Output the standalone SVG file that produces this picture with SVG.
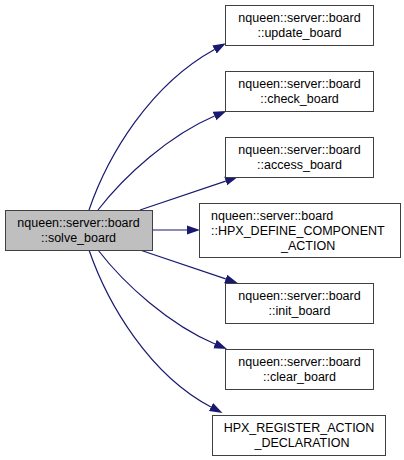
<svg xmlns="http://www.w3.org/2000/svg" width="404" height="460" viewBox="0 0 404 460">
<style>
.box{fill:#ffffff;stroke:#404040;stroke-width:1}
.cur{fill:#bfbfbf;stroke:#404040;stroke-width:1}
text{font-family:"Liberation Sans",Arial,sans-serif;font-size:12.5px;fill:#000000}
.c{text-anchor:middle}
.edge{fill:none;stroke:#191970;stroke-width:1.2;marker-end:url(#arr)}
</style>
<defs>
<marker id="arr" viewBox="0 0 13 10" refX="0" refY="5" markerWidth="13" markerHeight="10" markerUnits="userSpaceOnUse" orient="auto">
<path d="M0,0.5 L13,5 L0,9.5 z" fill="#191970"/>
</marker>
</defs>
<rect width="404" height="460" fill="#ffffff"/>
<g id="edges">
<path class="edge" d="M89,210 C108,155 150,85 214.5,49.5"/>
<path class="edge" d="M98,210 C125,175 170,135 214.5,116"/>
<path class="edge" d="M140,210 C170,200 200,190 225.7,181.1"/>
<path class="edge" d="M152,230 L187,230"/>
<path class="edge" d="M140,250 C170,260 200,270 225.7,278.9"/>
<path class="edge" d="M98,250 C125,285 170,325 215,344"/>
<path class="edge" d="M89,250 C108,305 150,375 211,407"/>
</g>
<g id="solve_board">
<rect class="cur" x="5.5" y="210.5" width="147" height="40"/>
<text class="c" x="78.5" y="226.5">nqueen::server::board</text>
<text class="c" x="78.5" y="241.5">::solve_board</text>
</g>
<g id="update_board">
<rect class="box" x="225.5" y="5.5" width="148" height="40"/>
<text class="c" x="299.5" y="21.5">nqueen::server::board</text>
<text class="c" x="299.5" y="36.5">::update_board</text>
</g>
<g id="check_board">
<rect class="box" x="225.5" y="71.5" width="148" height="40"/>
<text class="c" x="299.5" y="87.5">nqueen::server::board</text>
<text class="c" x="299.5" y="102.5">::check_board</text>
</g>
<g id="access_board">
<rect class="box" x="225.5" y="137.5" width="148" height="40"/>
<text class="c" x="299.5" y="153.5">nqueen::server::board</text>
<text class="c" x="299.5" y="168.5">::access_board</text>
</g>
<g id="hpx_define_component_action">
<rect class="box" x="199.5" y="203.5" width="201" height="54"/>
<text x="211" y="219.5">nqueen::server::board</text>
<text x="211" y="234.5">::HPX_DEFINE_COMPONENT</text>
<text x="281" y="249.5">_ACTION</text>
</g>
<g id="init_board">
<rect class="box" x="225.5" y="283.5" width="148" height="40"/>
<text class="c" x="299.5" y="299.5">nqueen::server::board</text>
<text class="c" x="299.5" y="314.5">::init_board</text>
</g>
<g id="clear_board">
<rect class="box" x="225.5" y="349.5" width="148" height="40"/>
<text class="c" x="299.5" y="365.5">nqueen::server::board</text>
<text class="c" x="299.5" y="380.5">::clear_board</text>
</g>
<g id="hpx_register_action_declaration">
<rect class="box" x="212.5" y="415.5" width="173" height="40"/>
<text class="c" x="299" y="431.5">HPX_REGISTER_ACTION</text>
<text class="c" x="302" y="446.5">_DECLARATION</text>
</g>
</svg>
